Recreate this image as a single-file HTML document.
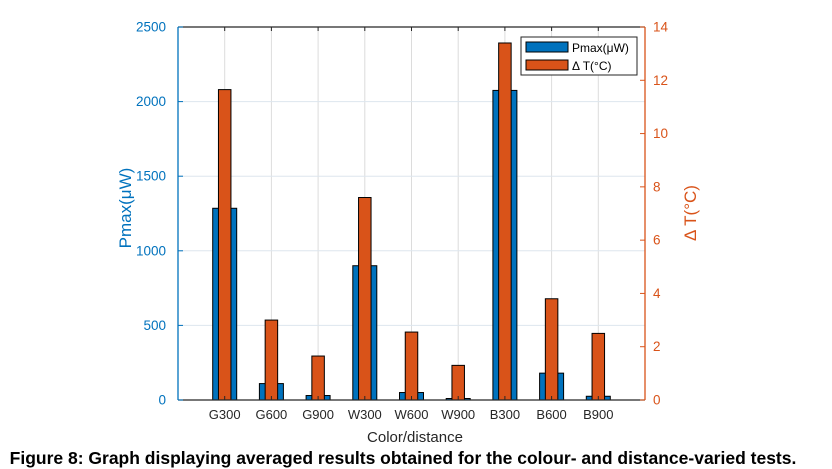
<!DOCTYPE html>
<html><head><meta charset="utf-8"><style>
body{margin:0;background:#fff;}
svg{display:block;font-family:"Liberation Sans",Arial,sans-serif;}
</style></head><body>
<svg id="chart" width="832" height="469"></svg>
<script>
const categories=["G300","G600","G900","W300","W600","W900","B300","B600","B900"];
const pmaxValues=[1285,110,30,900,50,10,2075,180,25];
const deltaTValues=[11.65,3.0,1.65,7.6,2.55,1.3,13.4,3.8,2.5];
const leftTicks=[0,500,1000,1500,2000,2500];
const rightTicks=[0,2,4,6,8,10,12,14];
const NS="http://www.w3.org/2000/svg";
const svg=document.getElementById('chart');
const L=178,R=645,T=27,B=400;
const xPos=i=>L+(R-L)*(i+1)/10;
const yL=v=>B-(B-T)*v/2500;
const yR=v=>B-(B-T)*v/14;
function mk(tag,attrs,parent){const e=document.createElementNS(NS,tag);for(const k in attrs)e.setAttribute(k,attrs[k]);(parent||svg).appendChild(e);return e;}
categories.forEach((c,i)=>{const g=mk('line',{x1:xPos(i),x2:xPos(i),y1:T,y2:B,stroke:'#dcdcdc','stroke-width':1});

});
leftTicks.forEach(v=>{if(v===0||v===2500)return;const g=mk('line',{x1:L,x2:R,y1:yL(v),y2:yL(v),stroke:'#dde6ee','stroke-width':1});

});
categories.forEach((c,i)=>{
 const x=xPos(i);
 const b=mk('rect',{x:x-12,y:yL(pmaxValues[i]),width:24,height:B-yL(pmaxValues[i]),fill:'#0072BD',stroke:'#000','stroke-width':1});
 
 
 const o=mk('rect',{x:x-6.25,y:yR(deltaTValues[i]),width:12.5,height:B-yR(deltaTValues[i]),fill:'#D95319',stroke:'#000','stroke-width':1});
 
 
 const t=mk('text',{x:x,y:419,'text-anchor':'middle','font-size':13,fill:'#262626'});t.textContent=c;
 
 
 mk('line',{x1:x,x2:x,y1:B,y2:B-4,stroke:'#262626','stroke-width':1});
 mk('line',{x1:x,x2:x,y1:T,y2:T+4,stroke:'#262626','stroke-width':1});
});
mk('line',{x1:L,x2:R,y1:B,y2:B,stroke:'#262626','stroke-width':1.3});
mk('line',{x1:L,x2:R,y1:T,y2:T,stroke:'#262626','stroke-width':1.3});
mk('line',{x1:L,x2:L,y1:T,y2:B,stroke:'#0072BD','stroke-width':1.3});
mk('line',{x1:R,x2:R,y1:T,y2:B,stroke:'#D95319','stroke-width':1.3});
leftTicks.forEach(v=>{mk('line',{x1:L,x2:L+5,y1:yL(v),y2:yL(v),stroke:'#0072BD'});
 const t=mk('text',{x:L-12,y:yL(v)+4.5,'text-anchor':'end','font-size':13.5,fill:'#0072BD'});t.textContent=v;
 
 });
rightTicks.forEach(v=>{mk('line',{x1:R-5,x2:R,y1:yR(v),y2:yR(v),stroke:'#D95319'});
 const t=mk('text',{x:R+8,y:yR(v)+4.5,'font-size':13.5,fill:'#D95319'});t.textContent=v;
 
 });
</script>
<script>
(function(){
const svg=document.getElementById('chart');const NS="http://www.w3.org/2000/svg";
function mk(tag,attrs,txt){const e=document.createElementNS(NS,tag);for(const k in attrs)e.setAttribute(k,attrs[k]);if(txt)e.textContent=txt;svg.appendChild(e);return e;}
let e;
e=mk('text',{x:415,y:442,'text-anchor':'middle','font-size':15,fill:'#262626'},'Color/distance');


e=mk('text',{x:0,y:0,transform:'translate(131,208) rotate(-90)','text-anchor':'middle','font-size':17,fill:'#0072BD'},'Pmax(μW)');


e=mk('text',{x:0,y:0,transform:'translate(696,213) rotate(-90)','text-anchor':'middle','font-size':17,fill:'#D95319'},'Δ T(°C)');


const g=document.createElementNS(NS,'g');svg.appendChild(g);


function add(tag,attrs,txt){const x=document.createElementNS(NS,tag);for(const k in attrs)x.setAttribute(k,attrs[k]);if(txt)x.textContent=txt;g.appendChild(x);return x;}
add('rect',{x:521,y:37,width:116,height:38,fill:'#fff',stroke:'#262626','stroke-width':1});
add('rect',{x:526,y:42,width:42,height:10,fill:'#0072BD',stroke:'#000'});
add('text',{x:572,y:52,'font-size':12,fill:'#000'},'Pmax(μW)');
add('rect',{x:526,y:60,width:42,height:10,fill:'#D95319',stroke:'#000'});
add('text',{x:572,y:70,'font-size':12,fill:'#000'},'Δ T(°C)');
e=mk('text',{x:403,y:464,'text-anchor':'middle','font-size':17.5,'font-weight':'bold',fill:'#000'},'Figure 8: Graph displaying averaged results obtained for the colour- and distance-varied tests.');


})();
</script>
</body></html>
